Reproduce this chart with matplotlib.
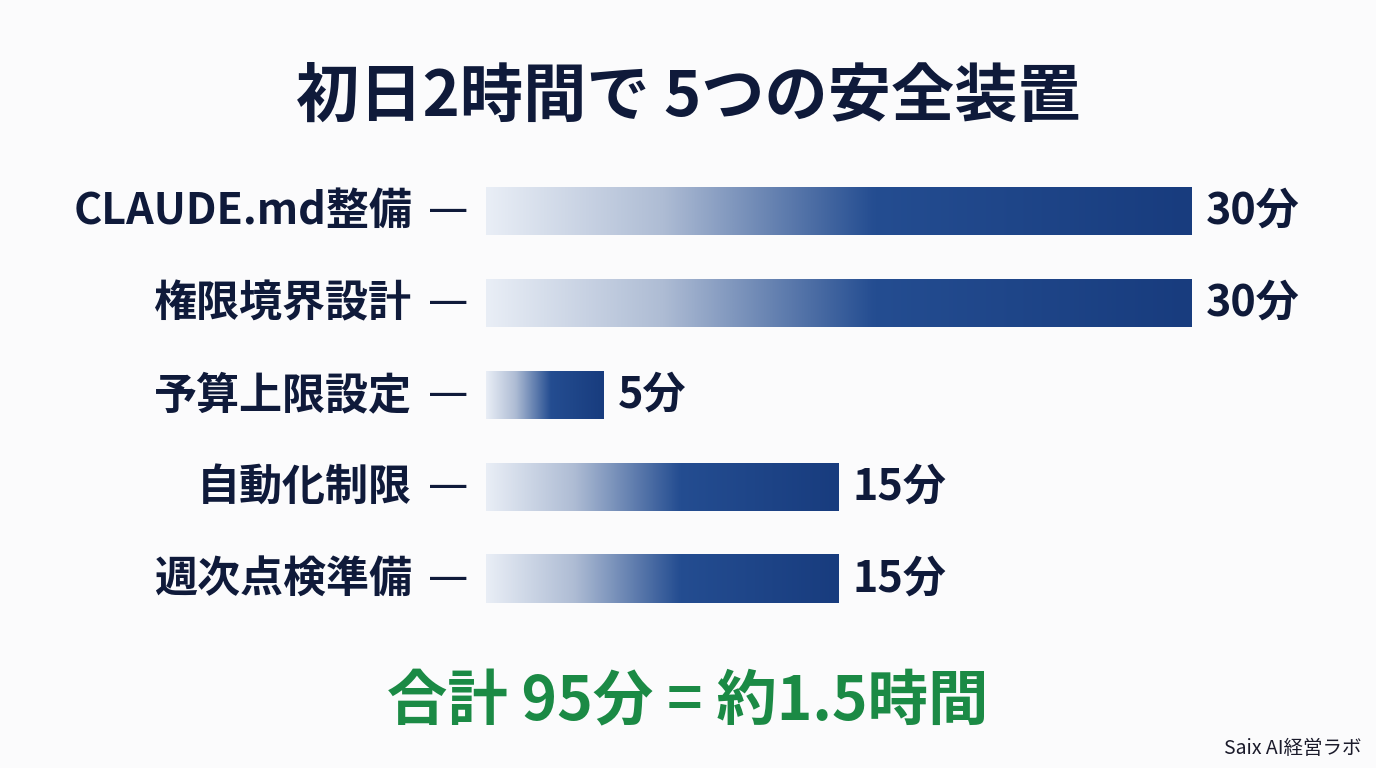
import numpy as np
import matplotlib
matplotlib.use("Agg")
import matplotlib.pyplot as plt
from matplotlib.colors import LinearSegmentedColormap

plt.rcParams['font.family'] = ['Noto Sans CJK JP', 'DejaVu Sans']

title = "初日2時間で 5つの安全装置"
categories = ["CLAUDE.md整備", "権限境界設計", "予算上限設定", "自動化制限", "週次点検準備"]
minutes = [30, 30, 5, 15, 15]
value_labels = ["30分", "30分", "5分", "15分", "15分"]
footer = "合計 95分 = 約1.5時間"
credit = "Saix AI経営ラボ"

W, H = 1376, 768
fig = plt.figure(figsize=(W / 100, H / 100), dpi=100)
fig.patch.set_facecolor("#fbfbfc")

# axes: value 0 at x=486px, value 30 at x=1192px; rows centred at 211 + 92*i px
x0, x1 = 486, 1192
top_px, bot_px = 150, 640
ax = fig.add_axes([x0 / W, 1 - bot_px / H, (x1 - x0) / W, (bot_px - top_px) / H])
y_top = (top_px - 211) / 92
y_bot = (bot_px - 211) / 92
ax.axis("off")
ax.patch.set_alpha(0)

cmap = LinearSegmentedColormap.from_list(
    "bar", [(0.0, "#e9eef6"), (0.25, "#aebcd4"), (0.55, "#244d91"), (1.0, "#183c7e")])
grad = np.linspace(0, 1, 256).reshape(1, -1)
bh = 48 / 92
text_color = "#0f1a3a"

for i, (cat, v, vl) in enumerate(zip(categories, minutes, value_labels)):
    ax.imshow(grad, cmap=cmap, aspect="auto", interpolation="bicubic",
              extent=(0, v, i + bh / 2, i - bh / 2), zorder=2)
    ax.annotate(cat, xy=(0, i), xytext=(-74, 0), textcoords="offset pixels",
                ha="right", va="center", fontsize=31, fontweight="bold", color=text_color)
    ax.annotate("—", xy=(0, i), xytext=(-18, 0), textcoords="offset pixels",
                ha="right", va="center", fontsize=29, fontweight="normal",
                family="DejaVu Sans", color=text_color)
    ax.annotate(vl, xy=(v, i), xytext=(14, 0), textcoords="offset pixels",
                ha="left", va="center", fontsize=31, fontweight="bold", color=text_color)

ax.set_xlim(0, 30)
ax.set_ylim(y_bot, y_top)

fig.text(0.5, 1 - 97 / H, title, ha="center", va="center", fontsize=45.5,
         fontweight="bold", color=text_color)
fig.text(0.5, 1 - 703 / H, footer, ha="center", va="center", fontsize=43.5,
         fontweight="bold", color="#1b8a45")
fig.text(1362 / W, 1 - 748 / H, credit, ha="right", va="center", fontsize=14,
         color="#1a1a2a")

fig.savefig("out.png", dpi=100, facecolor=fig.get_facecolor())
